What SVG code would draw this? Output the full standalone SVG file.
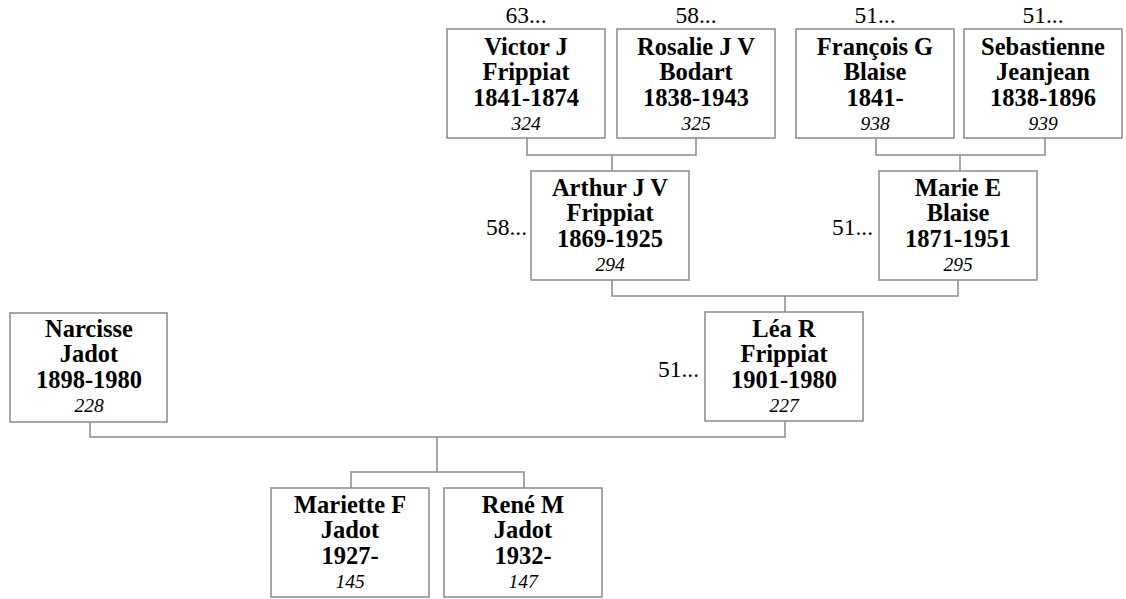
<svg xmlns="http://www.w3.org/2000/svg" width="1126" height="599" viewBox="0 0 1126 599">
<style>
.box{fill:#fff;stroke:#8a8a8a;stroke-width:1.5}
.ln{fill:none;stroke:#8a8a8a;stroke-width:1.5}
.nm{font-family:"Liberation Serif","Times New Roman",serif;font-weight:bold;font-size:24.5px;text-anchor:middle;fill:#000}
.id{font-family:"Liberation Serif","Times New Roman",serif;font-style:italic;font-size:19.5px;text-anchor:middle;fill:#000}
.lb{font-family:"Liberation Serif","Times New Roman",serif;font-size:23.5px;fill:#000}
</style>
<rect width="1126" height="599" fill="#fff"/>
<g id="connectors">
<path class="ln" d="M527 138V155H696V138M612 155V171"/>
<path class="ln" d="M876 138V155H1045V138M960 155V171"/>
<path class="ln" d="M612 280V296H958V280M785 296V312"/>
<path class="ln" d="M90 421V437H785V421M437 437V472"/>
<path class="ln" d="M351 488V472H524V488"/>
</g>
<g id="victor">
<text class="lb" x="526" y="23" text-anchor="middle">63...</text>
<rect class="box" x="447" y="29" width="158" height="109"/>
<text class="nm" x="526" y="55">Victor J</text>
<text class="nm" x="526" y="80">Frippiat</text>
<text class="nm" x="526" y="106">1841-1874</text>
<text class="id" x="526" y="130">324</text>
</g>
<g id="rosalie">
<text class="lb" x="696" y="23" text-anchor="middle">58...</text>
<rect class="box" x="617" y="29" width="158" height="109"/>
<text class="nm" x="696" y="55">Rosalie J V</text>
<text class="nm" x="696" y="80">Bodart</text>
<text class="nm" x="696" y="106">1838-1943</text>
<text class="id" x="696" y="130">325</text>
</g>
<g id="francois">
<text class="lb" x="875" y="23" text-anchor="middle">51...</text>
<rect class="box" x="796" y="29" width="158" height="109"/>
<text class="nm" x="875" y="55">François G</text>
<text class="nm" x="875" y="80">Blaise</text>
<text class="nm" x="875" y="106">1841-</text>
<text class="id" x="875" y="130">938</text>
</g>
<g id="sebastienne">
<text class="lb" x="1043" y="23" text-anchor="middle">51...</text>
<rect class="box" x="964" y="29" width="158" height="109"/>
<text class="nm" x="1043" y="55">Sebastienne</text>
<text class="nm" x="1043" y="80">Jeanjean</text>
<text class="nm" x="1043" y="106">1838-1896</text>
<text class="id" x="1043" y="130">939</text>
</g>
<g id="arthur">
<text class="lb" x="527" y="235" text-anchor="end">58...</text>
<rect class="box" x="531" y="171" width="158" height="109"/>
<text class="nm" x="610" y="196">Arthur J V</text>
<text class="nm" x="610" y="221">Frippiat</text>
<text class="nm" x="610" y="247">1869-1925</text>
<text class="id" x="610" y="271">294</text>
</g>
<g id="marie">
<text class="lb" x="873" y="235" text-anchor="end">51...</text>
<rect class="box" x="879" y="171" width="158" height="109"/>
<text class="nm" x="958" y="196">Marie E</text>
<text class="nm" x="958" y="221">Blaise</text>
<text class="nm" x="958" y="247">1871-1951</text>
<text class="id" x="958" y="271">295</text>
</g>
<g id="lea">
<text class="lb" x="699" y="377" text-anchor="end">51...</text>
<rect class="box" x="705" y="312" width="158" height="109"/>
<text class="nm" x="784" y="337">Léa R</text>
<text class="nm" x="784" y="362">Frippiat</text>
<text class="nm" x="784" y="388">1901-1980</text>
<text class="id" x="784" y="412">227</text>
</g>
<g id="narcisse">
<rect class="box" x="10" y="313" width="157" height="109"/>
<text class="nm" x="89" y="337">Narcisse</text>
<text class="nm" x="89" y="362">Jadot</text>
<text class="nm" x="89" y="388">1898-1980</text>
<text class="id" x="89" y="412">228</text>
</g>
<g id="mariette">
<rect class="box" x="271" y="488" width="158" height="109"/>
<text class="nm" x="350" y="513">Mariette F</text>
<text class="nm" x="350" y="538">Jadot</text>
<text class="nm" x="350" y="564">1927-</text>
<text class="id" x="350" y="588">145</text>
</g>
<g id="rene">
<rect class="box" x="444" y="488" width="158" height="109"/>
<text class="nm" x="523" y="513">René M</text>
<text class="nm" x="523" y="538">Jadot</text>
<text class="nm" x="523" y="564">1932-</text>
<text class="id" x="523" y="588">147</text>
</g>
</svg>
